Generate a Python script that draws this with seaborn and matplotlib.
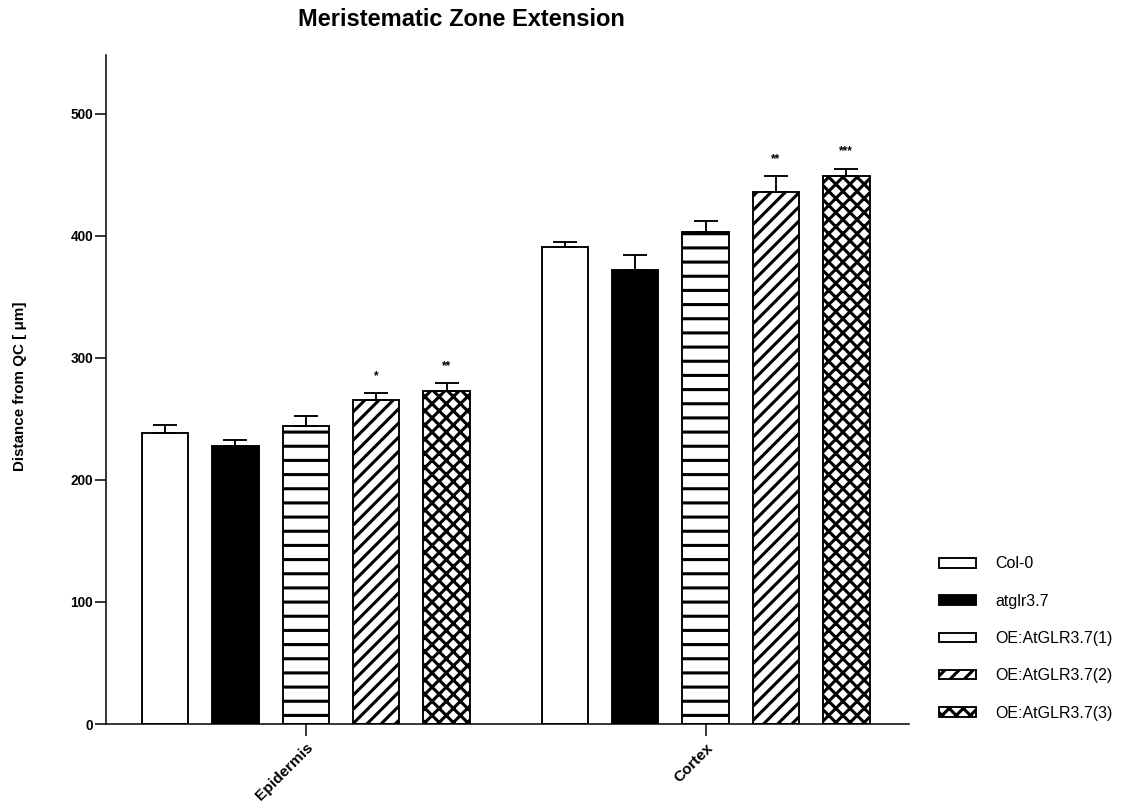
import numpy as np
import pandas as pd
import matplotlib
matplotlib.use("Agg")
import matplotlib.pyplot as plt
from matplotlib.patches import Patch
import seaborn as sns

# ---- data -------------------------------------------------------------
tissues = ["Epidermis", "Cortex"]
genotypes = ["Col-0", "atglr3.7", "OE:AtGLR3.7(1)", "OE:AtGLR3.7(2)", "OE:AtGLR3.7(3)"]
epidermis_mean = [238, 228, 244, 265, 273]
epidermis_sem = [7, 5, 8, 6, 6]
cortex_mean = [391, 372, 403, 436, 449]
cortex_sem = [4, 12, 9, 13, 6]
epidermis_sig = ["", "", "", "*", "**"]
cortex_sig = ["", "", "", "**", "***"]
y_ticks = [0, 100, 200, 300, 400, 500]

# ---- styling ----------------------------------------------------------
sns.set_style("ticks")
plt.rcParams["font.family"] = ["Liberation Sans", "DejaVu Sans"]
for key in ["text.color", "axes.labelcolor", "xtick.color", "ytick.color", "axes.edgecolor"]:
    plt.rcParams[key] = "black"
plt.rcParams["hatch.linewidth"] = 2.6
plt.rcParams["hatch.color"] = "black"

fills = {"Col-0": "white", "atglr3.7": "black", "OE:AtGLR3.7(1)": "white",
         "OE:AtGLR3.7(2)": "white", "OE:AtGLR3.7(3)": "white"}
hatches = {"Col-0": "", "atglr3.7": "", "OE:AtGLR3.7(1)": "-",
           "OE:AtGLR3.7(2)": "//", "OE:AtGLR3.7(3)": "xx"}

# bar centres: one unit per bar, groups separated by a wider gap
group_centre = {"Epidermis": 0.0, "Cortex": 5.68}
rows = []
for tissue, means, sems, sigs in [("Epidermis", epidermis_mean, epidermis_sem, epidermis_sig),
                                  ("Cortex", cortex_mean, cortex_sem, cortex_sig)]:
    for i, g in enumerate(genotypes):
        rows.append({"tissue": tissue, "genotype": g,
                     "pos": group_centre[tissue] + (i - 2),
                     "mean": means[i], "sem": sems[i], "sig": sigs[i]})
df = pd.DataFrame(rows)

DPI = 85
fig = plt.figure(figsize=(1124 / DPI, 810 / DPI), dpi=DPI)
ax = fig.add_axes([106 / 1124, 1 - 724 / 810, (909 - 106) / 1124, (724 - 55) / 810])

sns.barplot(data=df, x="pos", y="mean", hue="genotype", hue_order=genotypes,
            native_scale=True, dodge=False, width=0.66, palette=fills,
            edgecolor="black", linewidth=1.6, errorbar=None, legend=False, ax=ax)

for cont, g in zip(ax.containers, genotypes):
    for bar in cont:
        bar.set_hatch(hatches[g])
        bar.set_edgecolor("black")

# upper-only error bars (SEM)
ax.errorbar(df["pos"], df["mean"], yerr=[np.zeros(len(df)), df["sem"]],
            fmt="none", ecolor="black", elinewidth=1.6, capsize=10.5,
            capthick=1.6, zorder=1)

# significance stars
for _, r in df.iterrows():
    if r["sig"]:
        ax.text(r["pos"], r["mean"] + r["sem"] + 9, r["sig"], ha="center",
                va="bottom", fontsize=10, fontweight="bold")

ax.set_xlim(-2.84, 8.57)
ax.set_ylim(0, 548)
ax.set_yticks(y_ticks)
ax.set_yticklabels([str(t) for t in y_ticks], fontsize=11.5, fontweight="bold")
ax.set_xticks([group_centre[t] for t in tissues])
ax.set_xticklabels(tissues, rotation=45, ha="right", rotation_mode="anchor",
                   fontsize=13, fontweight="bold")
ax.set_xlabel("")
ax.set_ylabel("")
ax.tick_params(axis="y", length=9, width=1.3, direction="out", pad=2)
ax.tick_params(axis="x", length=10, width=1.3, direction="out", pad=4)
sns.despine(ax=ax)
for s in ["left", "bottom"]:
    ax.spines[s].set_linewidth(1.3)

fig.text(461 / 1124, 1 - 20 / 810, "Meristematic Zone Extension", ha="center",
         va="center", fontsize=20, fontweight="bold")
fig.text(20 / 1124, 1 - 386 / 810, "Distance from QC [ \u03bcm]", rotation=90,
         ha="center", va="center", fontsize=12.8, fontweight="bold")

handles = [Patch(facecolor=fills[g], edgecolor="black", hatch=hatches[g], linewidth=1.6)
           for g in genotypes]
fig.legend(handles, genotypes, loc="upper left",
           bbox_to_anchor=(925 / 1124, 1 - 542 / 810), frameon=False,
           fontsize=13.5, handlelength=2.3, handleheight=0.55,
           handletextpad=1.2, labelspacing=1.4)

fig.savefig("out.png", dpi=DPI)
